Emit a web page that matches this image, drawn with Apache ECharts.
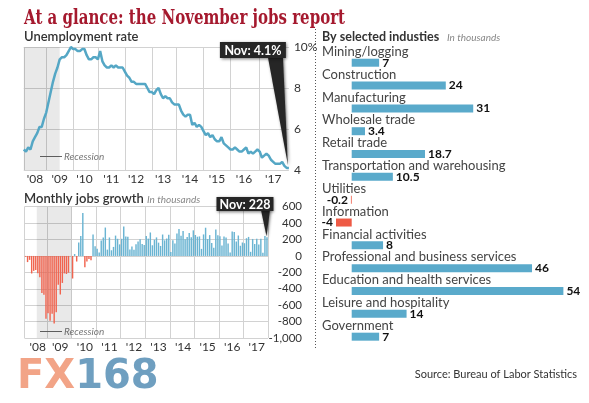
<!DOCTYPE html>
<html><head><meta charset="utf-8">
<script src="https://cdn.jsdelivr.net/npm/echarts@6/dist/echarts.min.js"></script>
<style>html,body{margin:0;padding:0;background:#fff}#c{width:589px;height:403px}</style>
</head><body><div id="c"></div>
<script>
// ---------- data ----------
const years = [2008,2009,2010,2011,2012,2013,2014,2015,2016,2017];
const yearLabels = ["'08","'09","'10","'11","'12","'13","'14","'15","'16","'17"];
const lastMonthName = 'Nov';
// Unemployment rate, %, monthly Jan 2008 - Nov 2017
const unemployment = [
 5.0,4.9,5.1,5.0,5.4,5.6,5.8,6.1,6.1,6.5,6.8,7.3,
 7.8,8.3,8.7,9.0,9.4,9.5,9.5,9.6,9.8,10.0,9.9,9.9,
 9.8,9.8,9.9,9.9,9.6,9.4,9.4,9.5,9.5,9.4,9.8,9.3,
 9.1,9.0,9.0,9.1,9.0,9.1,9.0,9.0,9.0,8.8,8.6,8.5,
 8.3,8.3,8.2,8.2,8.2,8.2,8.2,8.0,7.8,7.8,7.7,7.9,
 8.0,7.7,7.5,7.6,7.5,7.5,7.3,7.2,7.2,7.2,6.9,6.7,
 6.6,6.7,6.7,6.2,6.3,6.1,6.2,6.1,5.9,5.7,5.8,5.6,
 5.7,5.5,5.4,5.4,5.6,5.3,5.2,5.1,5.0,5.0,5.1,5.0,
 4.9,4.9,5.0,5.1,4.8,4.9,4.8,4.9,5.0,4.9,4.6,4.7,
 4.8,4.7,4.5,4.4,4.3,4.3,4.3,4.4,4.2,4.1,4.1
];
// Monthly jobs growth, thousands, Jan 2008 - Nov 2017
const jobsGrowth = [
 -10,-75,-48,-214,-182,-172,-210,-259,-452,-474,-765,-697,
 -791,-703,-823,-686,-351,-470,-329,-213,-220,-204,-2,-275,
 23,-68,164,243,524,-137,-68,-36,-52,262,119,87,
 43,189,225,346,77,225,69,110,248,209,141,209,
 358,237,233,78,115,76,143,177,203,146,132,244,
 211,286,130,197,226,162,122,261,190,212,258,47,
 190,151,272,329,246,304,202,230,280,227,312,255,
 234,238,86,262,344,206,254,157,100,321,252,239,
 126,237,225,153,43,297,291,176,249,124,164,155,
 216,232,50,207,145,210,138,208,38,244,228
];
const industries = ['Mining/logging','Construction','Manufacturing','Wholesale trade','Retail trade',
 'Transportation and warehousing','Utilities','Information','Financial activities',
 'Professional and business services','Education and health services','Leisure and hospitality','Government'];
const industryValues = [7,24,31,3.4,18.7,10.5,-0.2,-4,8,46,54,14,7];
const unempTicks = {min:4, max:10, interval:2};
const jobsTicks = {min:-1000, max:600, interval:200};

// ---------- layout helpers ----------
const months = [];
years.forEach(y => { for (let m = 1; m <= 12; m++) months.push(y + '-' + m); });
months.length = unemployment.length;
const unempGridIdx = [0,10,22,33,45,57,68,80,92,105];
const unempLabelIdx = [5,16,27,39,50,62,74,86,98,111];
const jobsGridIdx = [0,11,23,35,47,59,71,83,95,107];
const jobsLabelIdx = [6,17,29,41,53,65,77,89,101,113];
const recessionEndIdxTop = 16, recessionEndIdxJobs = 17;

const SANS = 'Lato, "Open Sans", sans-serif';
const BLUE_LINE = '#55a7c5', BLUE = '#6ab4d2', RED = '#f1644f';
const BLUE_IND = '#5aaacb', RED_IND = '#ee5a45';
const GRID_C = '#d2d2d2';

const chart = echarts.init(document.getElementById('c'), null, {renderer:'canvas'});

const option = {
  animation:false,
  grid:[
    {left:23.75, right:300.1, top:47, bottom:233},
    {left:24.5, right:321, top:206.7, bottom:65},
    {left:312.5, right:2.1, top:51.3, bottom:54.9}
  ],
  xAxis:[
    {gridIndex:0, type:'category', data:months, boundaryGap:false,
     axisLine:{show:false}, axisTick:{show:false},
     axisLabel:{interval:(i)=>unempLabelIdx.includes(i), formatter:(v,i)=>yearLabels[unempLabelIdx.indexOf(i)],
       color:'#333', fontSize:12, fontFamily:SANS, margin:3},
     splitLine:{show:true, interval:(i)=>unempGridIdx.includes(i), lineStyle:{color:GRID_C, width:1}}},
    {gridIndex:1, type:'category', data:months, boundaryGap:true,
     axisLine:{show:false}, axisTick:{show:false},
     axisLabel:{interval:(i)=>jobsLabelIdx.includes(i), formatter:(v,i)=>yearLabels[jobsLabelIdx.indexOf(i)],
       color:'#333', fontSize:12, fontFamily:SANS, margin:3},
     splitLine:{show:true, interval:(i)=>jobsGridIdx.includes(i), lineStyle:{color:GRID_C, width:1}}},
    {gridIndex:2, type:'value', min:-10, max:60, show:false}
  ],
  yAxis:[
    {gridIndex:0, type:'value', position:'right', min:unempTicks.min, max:unempTicks.max, interval:unempTicks.interval,
     axisLine:{show:false}, axisTick:{show:false},
     axisLabel:{formatter:(v)=> v===unempTicks.max ? v+'%' : String(v), align:'left', margin:5,
       color:'#333', fontSize:12, fontFamily:SANS},
     splitLine:{lineStyle:{color:GRID_C, width:1}}},
    {gridIndex:1, type:'value', position:'right', min:jobsTicks.min, max:jobsTicks.max, interval:jobsTicks.interval,
     axisLine:{show:false}, axisTick:{show:false},
     axisLabel:{formatter:(v)=> v.toLocaleString('en-US'), align:'right', margin:34,
       color:'#333', fontSize:11.5, fontFamily:SANS},
     splitLine:{lineStyle:{color:GRID_C, width:1}}},
    {gridIndex:2, type:'category', data:industries, inverse:true,
     axisLine:{show:false}, axisTick:{show:false}, splitLine:{show:false},
     axisLabel:{inside:true, margin:9.5, align:'left', verticalAlign:'bottom', lineHeight:22,
       color:'#444', fontSize:13, fontFamily:SANS}}
  ],
  series:[
    {type:'line', xAxisIndex:0, yAxisIndex:0, data:unemployment, symbol:'none',
     lineStyle:{color:BLUE_LINE, width:2.5}, z:3,
     markArea:{silent:true, itemStyle:{color:'rgba(0,0,0,0.085)'},
       data:[[{xAxis:months[0]},{xAxis:months[recessionEndIdxTop]}]]}},
    {type:'bar', xAxisIndex:1, yAxisIndex:1, barCategoryGap:'30%',
     data:jobsGrowth.map(v=>({value:v, itemStyle:{color: v<0 ? RED : BLUE}})),
     markArea:{silent:true, itemStyle:{color:'rgba(0,0,0,0.085)'},
       data:[[{xAxis:months[0]},{xAxis:months[recessionEndIdxJobs]}]]}},
    {type:'bar', xAxisIndex:2, yAxisIndex:2, barWidth:8,
     data:industryValues.map(v=>({value:v, itemStyle:{color: v<0 ? RED_IND : BLUE_IND},
        label:{position: v<0 ? 'left' : 'right'}})),
     label:{show:true, distance:3, color:'#111', fontWeight:'bold', fontSize:12, fontFamily:SANS}}
  ]
};
chart.setOption(option);

// ---------- annotations ----------
function measure(text, font){
  const c = document.createElement('canvas').getContext('2d'); c.font = font; return c.measureText(text).width;
}
const titleText = 'At a glance: the November jobs report';
const titleFont = 'bold 20px "DejaVu Serif"';
const titleScale = 321 / measure(titleText, titleFont);

const lastIdx = months.length - 1;
const p1 = chart.convertToPixel({xAxisIndex:0, yAxisIndex:0}, [months[lastIdx], unemployment[lastIdx]]);
const p2 = chart.convertToPixel({xAxisIndex:1, yAxisIndex:1}, [months[lastIdx], jobsGrowth[lastIdx]]);
const calloutStyle = {fill:'#262626', shadowBlur:3, shadowColor:'rgba(0,0,0,0.55)', shadowOffsetX:1, shadowOffsetY:1};

const graphics = [
  {type:'text', x:24, y:19, scaleX:titleScale, z:10,
   style:{text:titleText, font:titleFont, fill:'#a5192e', verticalAlign:'middle'}},
  {type:'text', x:24, y:37, style:{text:'Unemployment rate', font:'600 13px '+SANS, fill:'#333', verticalAlign:'middle'}},
  {type:'text', x:24, y:199, style:{text:'Monthly jobs growth', font:'600 13px '+SANS, fill:'#333', verticalAlign:'middle'}},
  {type:'text', x:147, y:199.5, style:{text:'In thousands', font:'italic 10px '+SANS, fill:'#888', verticalAlign:'middle'}},
  {type:'text', x:322, y:37, style:{text:'By selected industies', font:'bold 12.5px '+SANS, fill:'#333', verticalAlign:'middle'}},
  {type:'text', x:447, y:37.5, style:{text:'In thousands', font:'italic 10px '+SANS, fill:'#888', verticalAlign:'middle'}},
  // separator
  {type:'line', shape:{x1:315.5, y1:29, x2:315.5, y2:350}, style:{stroke:'#555', lineWidth:1, lineDash:[1,2]}},
  // recession legends
  {type:'line', shape:{x1:40, y1:156.5, x2:62, y2:156.5}, style:{stroke:'#666', lineWidth:1}},
  {type:'text', x:64, y:156.5, style:{text:'Recession', font:'italic 10px '+SANS, fill:'#777', verticalAlign:'middle'}},
  {type:'line', shape:{x1:40, y1:331.5, x2:62, y2:331.5}, style:{stroke:'#666', lineWidth:1}},
  {type:'text', x:64, y:331.5, style:{text:'Recession', font:'italic 10px '+SANS, fill:'#777', verticalAlign:'middle'}},
  // source + logo
  {type:'text', x:577, y:374, style:{text:'Source: Bureau of Labor Statistics', font:'11px '+SANS, fill:'#333', align:'right', verticalAlign:'middle'}},
  {type:'text', x:17, y:378, style:{text:'{a|FX}{b|168}', verticalAlign:'middle',
     rich:{a:{fill:'#f2a487', font:'bold 40px "DejaVu Sans"'}, b:{fill:'#6f9fc0', font:'bold 40px "DejaVu Sans"'}}}},
  // callout 1
  {type:'polygon', z:100, shape:{points:[[p1[0]-21,57],[p1[0]-6,57],[p1[0]-1,p1[1]-3]]}, style:calloutStyle},
  {type:'rect', z:100, shape:{x:p1[0]-69, y:42, width:66, height:16}, style:calloutStyle},
  {type:'text', z:101, x:p1[0]-36, y:50.5, style:{text:lastMonthName+': '+unemployment[lastIdx]+'%', fill:'#fff',
     font:'bold 12.5px '+SANS, align:'center', verticalAlign:'middle'}},
  // callout 2
  {type:'polygon', z:100, shape:{points:[[p2[0]-6,210],[p2[0]+3,210],[p2[0]-0.5,p2[1]-1]]}, style:calloutStyle},
  {type:'rect', z:100, shape:{x:p2[0]-50.5, y:197, width:57, height:14}, style:calloutStyle},
  {type:'text', z:101, x:p2[0]-22, y:204.5, style:{text:lastMonthName+': '+jobsGrowth[lastIdx], fill:'#fff',
     font:'bold 12.5px '+SANS, align:'center', verticalAlign:'middle'}}
];
chart.setOption({graphic:graphics});
</script></body></html>
